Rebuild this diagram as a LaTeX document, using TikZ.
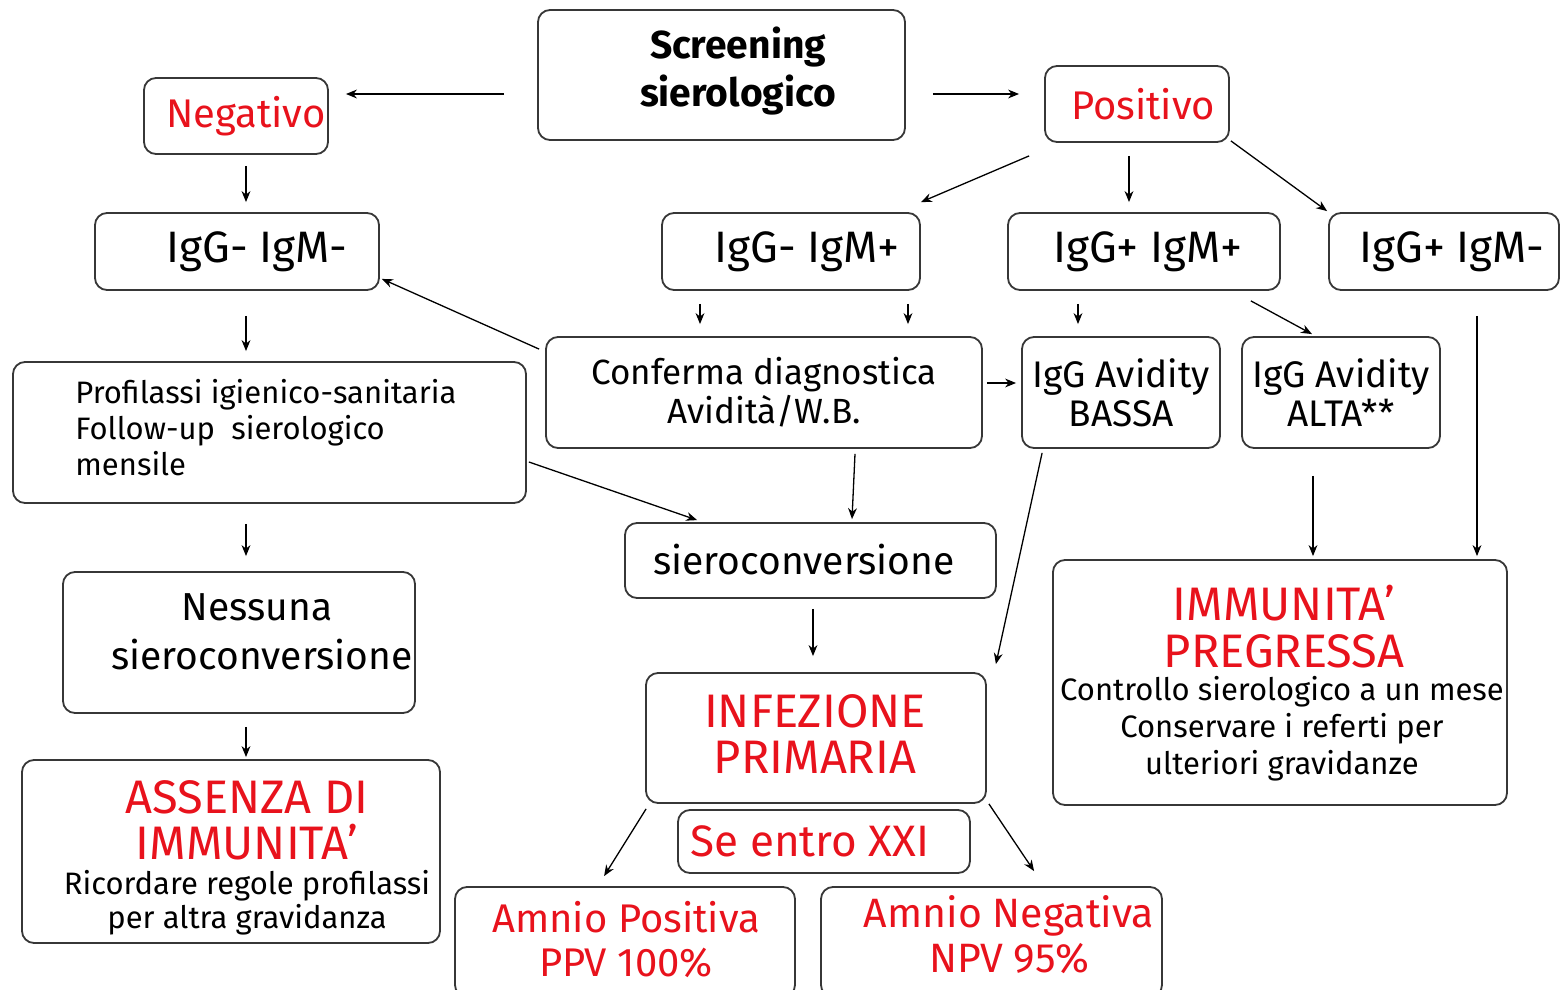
\documentclass[tikz,border=0pt]{standalone}
\usepackage{fontspec}
\setmainfont{Fira Sans}
\usetikzlibrary{arrows.meta,calc}
\definecolor{dred}{RGB}{232,18,28}
\definecolor{bord}{RGB}{55,55,55}
\newcommand\fsz[2]{\fontsize{#1}{#2}\selectfont}
\begin{document}
\begin{tikzpicture}[x=0.5pt,y=-0.5pt,
  box/.style={draw=bord, line width=0.9pt, rounded corners=6pt, align=center, inner sep=0pt},
  sz/.style 2 args={minimum width=#1*0.5pt, minimum height=#2*0.5pt},
  arr/.style={-{Stealth[length=5.5pt,width=4.4pt]}, line width=0.65pt, draw=black},
  rt/.style={text=dred},
  txt/.style={inner sep=0pt, align=center}]
\useasboundingbox[fill=white] (0,0) rectangle (1560,990);

% boxes
\node[box, sz={367}{130}] (scr) at (721.5,75) {};
\node[box, sz={184}{76}, rt, font=\fsz{20pt}{24pt}] (neg) at (236,116) {\hspace*{10pt}Negativo};
\node[box, sz={184}{76}, rt, font=\fsz{20pt}{24pt}] (pos) at (1137,104) {\hspace*{6pt}Positivo};
\node[box, sz={284}{77}, font=\fsz{22pt}{24pt}] (igmm) at (237,251.5) {\hspace*{20pt}IgG- IgM-};
\node[box, sz={258}{77}, font=\fsz{22pt}{24pt}] (igmp) at (791,251.5) {\hspace*{16pt}IgG- IgM+};
\node[box, sz={272}{77}, font=\fsz{22pt}{24pt}] (igpp) at (1144,251.5) {\hspace*{4pt}IgG+ IgM+};
\node[box, sz={230}{77}, font=\fsz{22pt}{24pt}] (igpm) at (1444,251.5) {\hspace*{8pt}IgG+ IgM-};
\node[box, sz={513}{141}] (prof) at (269.5,432.5) {};
\node[box, sz={436}{111}, font=\fsz{17.5pt}{19.5pt}] (conf) at (764,392.5) {Conferma diagnostica\\Avidità/W.B.};
\node[box, sz={198}{111}, font=\fsz{18.5pt}{19.5pt}] (bassa) at (1121,392.5) {IgG Avidity\\BASSA};
\node[box, sz={198}{111}, font=\fsz{18.5pt}{19.5pt}] (alta) at (1341,392.5) {IgG Avidity\\ALTA**};
\node[box, sz={371}{75}, font=\fsz{19.5pt}{20pt}] (siero) at (810.5,560.5) {\hspace*{-6.5pt}\raisebox{1.5pt}{sieroconversione}};
\node[box, sz={352}{141}] (ness) at (239,642.5) {};
\node[box, sz={454}{245}] (imm) at (1280,682.5) {};
\node[box, sz={340}{130}] (inf) at (816,738) {};
\node[box, sz={418}{183}] (ass) at (231,851.5) {};
\node[box, sz={292}{63}, rt, font=\fsz{22pt}{23pt}] (se) at (824,841.5) {\hspace*{-14pt}Se entro XXI};
\node[box, sz={340}{110}] (amp) at (625,942) {};
\node[box, sz={341}{110}] (amn) at (991.5,942) {};

% texts
\node[txt, font=\bfseries\fsz{19.5pt}{24pt}] (scrT) at (738,71) {Screening\\sierologico};
\node[txt, align=left, font=\fsz{15.5pt}{18pt}] (profT) at (75,428) [anchor=west] {Profilassi igienico-sanitaria\\Follow-up\ \ sierologico\\mensile};
\node[txt, font=\fsz{19.5pt}{20pt}] (nessT1) at (257,607) {Nessuna};
\node[txt, font=\fsz{19.5pt}{20pt}] (nessT2) at (262,655) {sieroconversione};
\node[txt, rt, font=\fsz{23.5pt}{23.5pt}] (immT1) at (1284,626.5) {IMMUNITA'\\PREGRESSA};
\node[txt, font=\fsz{15.5pt}{18.5pt}] (immT2) at (1282,728.5) {Controllo sierologico a un mese\\Conservare i referti per\\ulteriori gravidanze};
\node[txt, rt, font=\fsz{23.5pt}{23pt}] (infT) at (815,734) {INFEZIONE\\PRIMARIA};
\node[txt, rt, font=\fsz{23.5pt}{23pt}] (assT1) at (247,820) {ASSENZA DI\\IMMUNITA'};
\node[txt, font=\fsz{15.5pt}{17pt}] (assT2) at (247,903) {Ricordare regole profilassi\\per altra gravidanza};
\node[txt, rt, font=\fsz{20pt}{22pt}] (ampT) at (626,940) {Amnio Positiva\\PPV 100\%};
\node[txt, rt, font=\fsz{20.5pt}{22.5pt}] (amnT) at (1009,934.5) {Amnio Negativa\\NPV 95\%};

% connectors
\draw[arr, shorten <=16.5pt, shorten >=8.5pt] (scr.west |- 0,94) -- (neg.east |- 0,94);
\draw[arr, shorten <=13.5pt, shorten >=12.5pt] (scr.east |- 0,94) -- (pos.west |- 0,94);
\draw[arr, shorten <=5.5pt, shorten >=5pt] (246,0 |- neg.south) -- (246,0 |- igmm.north);
\draw[arr] ($(pos.south west)+(-15,13)$) -- ($(igmp.north east)+(0,-10)$);
\draw[arr, shorten <=6.5pt, shorten >=5pt] (1129,0 |- pos.south) -- (1129,0 |- igpp.north);
\draw[arr] ($(pos.south east)+(1,-2)$) -- ($(igpm.north west)+(-1,-1)$);
\draw[arr, shorten <=12.5pt, shorten >=5pt] (246,0 |- igmm.south) -- (246,0 |- prof.north);
\draw[arr, shorten <=6.5pt, shorten >=6pt] (700,0 |- igmp.south) -- (700,0 |- conf.north);
\draw[arr, shorten <=6.5pt, shorten >=6pt] (908,0 |- igmp.south) -- (908,0 |- conf.north);
\draw[arr] ($(conf.north west)+(-6,13)$) -- ($(igmm.south east)+(2,-12)$);
\draw[arr, shorten <=6.5pt, shorten >=6pt] (1078,0 |- igpp.south) -- (1078,0 |- bassa.north);
\draw[arr] ($(igpp.south east)+(-30,10)$) -- ($(alta.north)+(-29,-2)$);
\draw[arr, shorten <=2pt, shorten >=2.5pt] (conf.east |- 0,383) -- (bassa.west |- 0,383);
\draw[arr] ($(prof.east)+(2,29.5)$) -- ($(siero.north west)+(73,-2)$);
\draw[arr] ($(conf.south)+(91,5)$) -- ($(siero.north)+(41.5,-3)$);
\draw[arr, shorten <=10pt, shorten >=7.5pt] (246,0 |- prof.south) -- (246,0 |- ness.north);
\draw[arr, shorten <=6.5pt, shorten >=1pt] (246,0 |- ness.south) -- (246,0 |- ass.north);
\draw[arr, shorten <=5pt, shorten >=8pt] (813,0 |- siero.south) -- (813,0 |- inf.north);
\draw[arr] ($(bassa.south west)+(21,4)$) -- ($(inf.north east)+(9,-8)$);
\draw[arr, shorten <=13.5pt, shorten >=1.5pt] (1313,0 |- alta.south) -- (1313,0 |- imm.north);
\draw[arr, shorten <=12.5pt, shorten >=1.5pt] (1477,0 |- igpm.south) -- (1477,0 |- imm.north);
\draw[arr] ($(inf.south west)+(1,5)$) -- ($(amp.north west)+(150,-10)$);
\draw[arr] ($(inf.south east)+(2,0)$) -- ($(amn.north west)+(214,-15)$);
\end{tikzpicture}
\end{document}
